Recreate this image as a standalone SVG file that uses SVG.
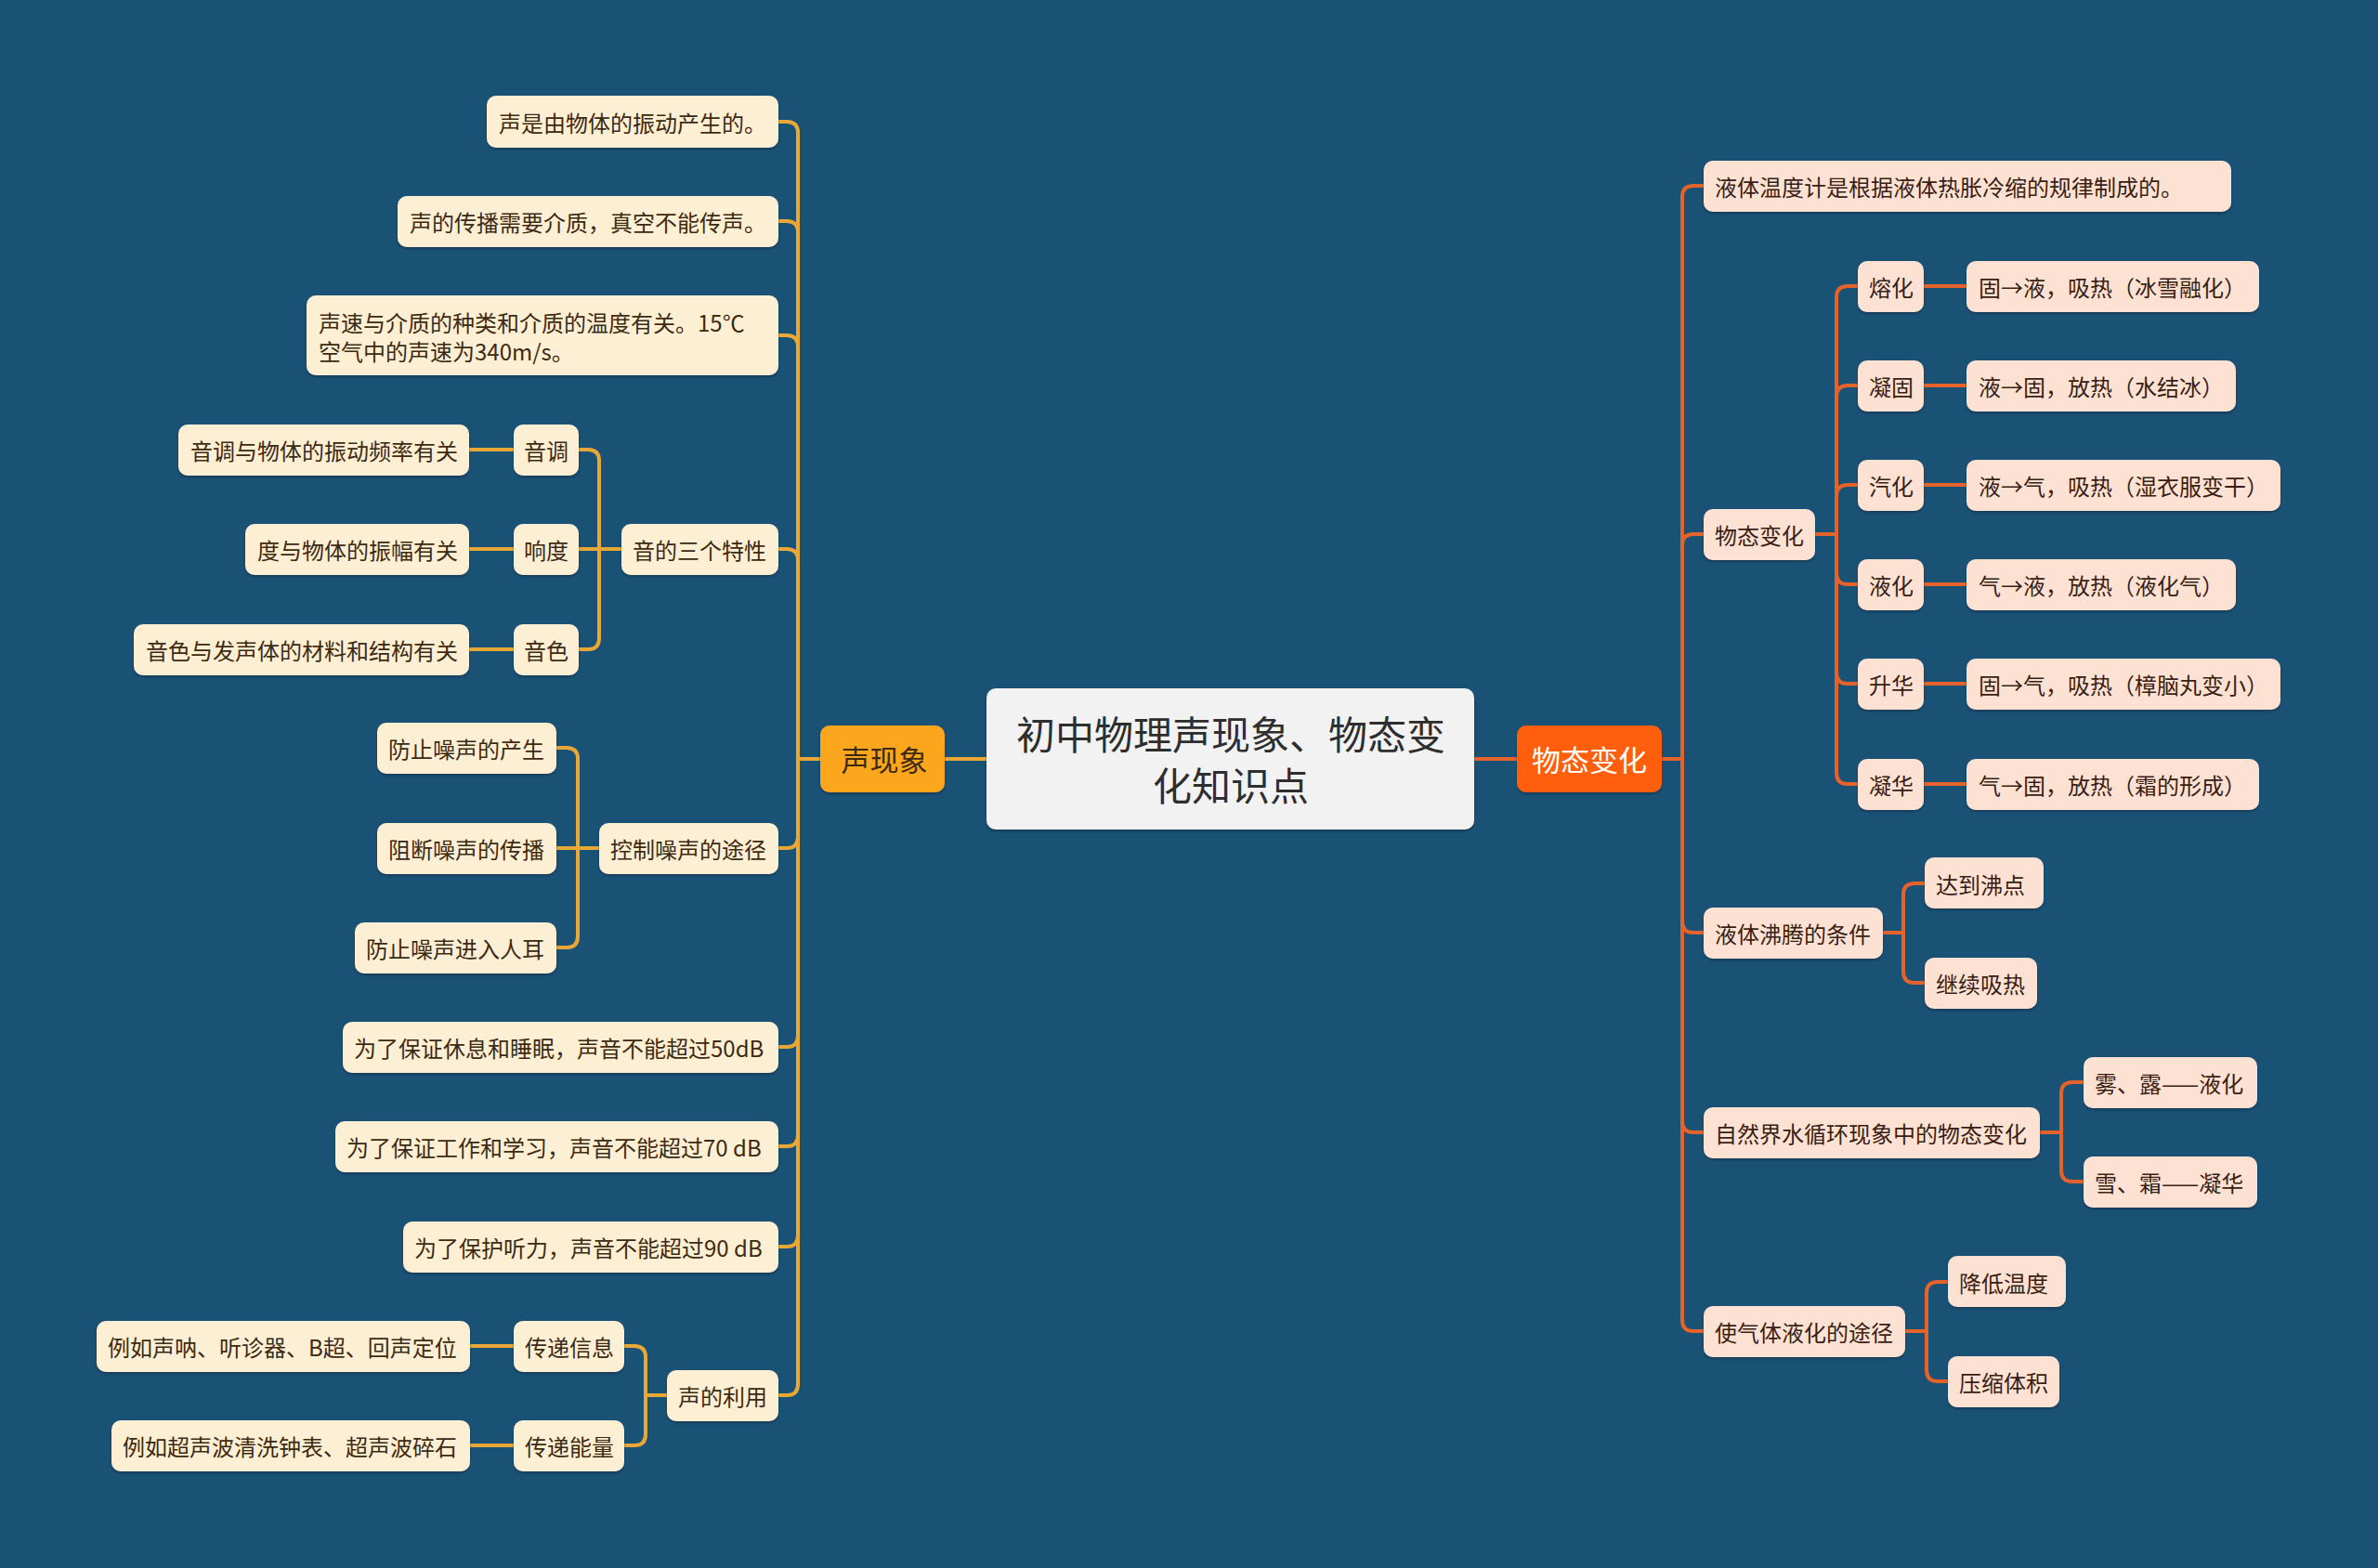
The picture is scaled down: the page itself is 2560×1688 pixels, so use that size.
<svg xmlns="http://www.w3.org/2000/svg" width="2560" height="1688" viewBox="0 0 2560 1688">
<defs>
<filter id="sh" x="-10%" y="-20%" width="120%" height="150%">
<feDropShadow dx="0" dy="2" stdDeviation="1.2" flood-color="#0b2a40" flood-opacity="0.55"/>
</filter>
<style>
text{font-family:"Noto Sans CJK SC","Noto Sans",sans-serif;dominant-baseline:central}
.l rect{fill:#FDEFD4;filter:url(#sh)}
.l text{fill:#3D2A10;font-size:24px}
.r rect{fill:#FDE2D4;filter:url(#sh)}
.r text{fill:#3A1E12;font-size:24px}
.cl{fill:none;stroke:#E9A735;stroke-width:4;stroke-linecap:round}
.cr{fill:none;stroke:#E5622A;stroke-width:4;stroke-linecap:round}
</style>
</defs>
<rect width="2560" height="1688" fill="#1A5276"/>

<g id="connectors">
<path class="cl" d="M1062 817 H1017"/>
<path class="cr" d="M1587 817 H1633"/>
<path class="cl" d="M883 817 H859"/>
<path class="cl" d="M838 131 H847 Q859 131 859 143 V817"/>
<path class="cl" d="M838 238 H847 Q859 238 859 250 V817"/>
<path class="cl" d="M838 361 H847 Q859 361 859 373 V817"/>
<path class="cl" d="M838 591 H847 Q859 591 859 603 V817"/>
<path class="cl" d="M838 913 H847 Q859 913 859 901 V817"/>
<path class="cl" d="M838 1127 H847 Q859 1127 859 1115 V817"/>
<path class="cl" d="M838 1234 H847 Q859 1234 859 1222 V817"/>
<path class="cl" d="M838 1342 H847 Q859 1342 859 1330 V817"/>
<path class="cl" d="M838 1502 H847 Q859 1502 859 1490 V817"/>
<path class="cl" d="M669 591 H645"/>
<path class="cl" d="M623 484 H633 Q645 484 645 496 V591"/>
<path class="cl" d="M623 591 H645"/>
<path class="cl" d="M623 699 H633 Q645 699 645 687 V591"/>
<path class="cl" d="M505 484 H553"/>
<path class="cl" d="M505 591 H553"/>
<path class="cl" d="M505 699 H553"/>
<path class="cl" d="M645 913 H622"/>
<path class="cl" d="M599 805 H610 Q622 805 622 817 V913"/>
<path class="cl" d="M599 913 H622"/>
<path class="cl" d="M599 1020 H610 Q622 1020 622 1008 V913"/>
<path class="cl" d="M718 1502 H695"/>
<path class="cl" d="M672 1449 H683 Q695 1449 695 1461 V1502"/>
<path class="cl" d="M672 1556 H683 Q695 1556 695 1544 V1502"/>
<path class="cl" d="M506 1449 H553"/>
<path class="cl" d="M506 1556 H553"/>
<path class="cr" d="M1789 817 H1811"/>
<path class="cr" d="M1834 200 H1823 Q1811 200 1811 212 V817"/>
<path class="cr" d="M1834 575 H1823 Q1811 575 1811 587 V817"/>
<path class="cr" d="M1834 1004 H1823 Q1811 1004 1811 992 V817"/>
<path class="cr" d="M1834 1219 H1823 Q1811 1219 1811 1207 V817"/>
<path class="cr" d="M1834 1433 H1823 Q1811 1433 1811 1421 V817"/>
<path class="cr" d="M1954 575 H1977"/>
<path class="cr" d="M2000 308 H1989 Q1977 308 1977 320 V575"/>
<path class="cr" d="M2000 415 H1989 Q1977 415 1977 427 V575"/>
<path class="cr" d="M2000 522 H1989 Q1977 522 1977 534 V575"/>
<path class="cr" d="M2000 629 H1989 Q1977 629 1977 617 V575"/>
<path class="cr" d="M2000 736 H1989 Q1977 736 1977 724 V575"/>
<path class="cr" d="M2000 844 H1989 Q1977 844 1977 832 V575"/>
<path class="cr" d="M2071 308 H2117"/>
<path class="cr" d="M2071 415 H2117"/>
<path class="cr" d="M2071 522 H2117"/>
<path class="cr" d="M2071 629 H2117"/>
<path class="cr" d="M2071 736 H2117"/>
<path class="cr" d="M2071 844 H2117"/>
<path class="cr" d="M2027 1004 H2049"/>
<path class="cr" d="M2072 951 H2061 Q2049 951 2049 963 V1004"/>
<path class="cr" d="M2072 1058 H2061 Q2049 1058 2049 1046 V1004"/>
<path class="cr" d="M2196 1219 H2219"/>
<path class="cr" d="M2243 1165 H2231 Q2219 1165 2219 1177 V1219"/>
<path class="cr" d="M2243 1272 H2231 Q2219 1272 2219 1260 V1219"/>
<path class="cr" d="M2051 1433 H2074"/>
<path class="cr" d="M2097 1380 H2086 Q2074 1380 2074 1392 V1433"/>
<path class="cr" d="M2097 1487 H2086 Q2074 1487 2074 1475 V1433"/>
</g>

<g id="center">
<rect x="1062" y="741" width="525" height="152" rx="10" fill="#F2F2F2" filter="url(#sh)"/>
<text x="1325" y="788" font-size="42" fill="#2E2E2E" text-anchor="middle">初中物理声现象、物态变</text>
<text x="1325" y="843" font-size="42" fill="#2E2E2E" text-anchor="middle">化知识点</text>
</g>
<g id="root-sound">
<rect x="883" y="781" width="134" height="72" rx="10" fill="#FBA61D" filter="url(#sh)"/>
<text x="952" y="816" font-size="31" fill="#3D2A10" text-anchor="middle">声现象</text>
</g>
<g id="root-state">
<rect x="1633" y="781" width="156" height="72" rx="10" fill="#FF5E0C" filter="url(#sh)"/>
<text x="1711" y="816" font-size="31" fill="#FFFFFF" text-anchor="middle">物态变化</text>
</g>

<g id="n-l1" class="l"><rect x="524" y="103" width="314" height="56" rx="10"/><text x="537" y="131">声是由物体的振动产生的。</text></g>
<g id="n-l2" class="l"><rect x="428" y="211" width="410" height="55" rx="10"/><text x="441" y="238">声的传播需要介质，真空不能传声。</text></g>
<g id="n-l3" class="l"><rect x="330" y="318" width="508" height="86" rx="10"/><text x="343" y="346">声速与介质的种类和介质的温度有关。15℃</text><text x="343" y="377">空气中的声速为340m/s。</text></g>
<g id="n-l4" class="l"><rect x="669" y="564" width="169" height="55" rx="10"/><text x="681" y="591">音的三个特性</text></g>
<g id="n-l4a" class="l"><rect x="553" y="457" width="70" height="55" rx="10"/><text x="564" y="484">音调</text></g>
<g id="n-l4b" class="l"><rect x="553" y="564" width="70" height="55" rx="10"/><text x="564" y="591">响度</text></g>
<g id="n-l4c" class="l"><rect x="553" y="672" width="70" height="55" rx="10"/><text x="564" y="699">音色</text></g>
<g id="n-l4a1" class="l"><rect x="192" y="457" width="313" height="55" rx="10"/><text x="205" y="484">音调与物体的振动频率有关</text></g>
<g id="n-l4b1" class="l"><rect x="264" y="564" width="241" height="55" rx="10"/><text x="277" y="591">度与物体的振幅有关</text></g>
<g id="n-l4c1" class="l"><rect x="144" y="672" width="361" height="55" rx="10"/><text x="157" y="699">音色与发声体的材料和结构有关</text></g>
<g id="n-l5" class="l"><rect x="645" y="886" width="193" height="55" rx="10"/><text x="657" y="913">控制噪声的途径</text></g>
<g id="n-l5a" class="l"><rect x="406" y="778" width="193" height="55" rx="10"/><text x="418" y="805">防止噪声的产生</text></g>
<g id="n-l5b" class="l"><rect x="406" y="886" width="193" height="55" rx="10"/><text x="418" y="913">阻断噪声的传播</text></g>
<g id="n-l5c" class="l"><rect x="382" y="993" width="217" height="55" rx="10"/><text x="394" y="1020">防止噪声进入人耳</text></g>
<g id="n-l6" class="l"><rect x="369" y="1100" width="469" height="55" rx="10"/><text x="381" y="1127">为了保证休息和睡眠，声音不能超过50dB</text></g>
<g id="n-l7" class="l"><rect x="361" y="1207" width="477" height="55" rx="10"/><text x="373" y="1234">为了保证工作和学习，声音不能超过70 dB</text></g>
<g id="n-l8" class="l"><rect x="434" y="1315" width="404" height="55" rx="10"/><text x="446" y="1342">为了保护听力，声音不能超过90 dB</text></g>
<g id="n-l9" class="l"><rect x="718" y="1475" width="120" height="55" rx="10"/><text x="730" y="1502">声的利用</text></g>
<g id="n-l9a" class="l"><rect x="553" y="1422" width="119" height="55" rx="10"/><text x="565" y="1449">传递信息</text></g>
<g id="n-l9b" class="l"><rect x="553" y="1529" width="119" height="55" rx="10"/><text x="565" y="1556">传递能量</text></g>
<g id="n-l9a1" class="l"><rect x="104" y="1422" width="402" height="55" rx="10"/><text x="116" y="1449">例如声呐、听诊器、B超、回声定位</text></g>
<g id="n-l9b1" class="l"><rect x="120" y="1529" width="386" height="55" rx="10"/><text x="132" y="1556">例如超声波清洗钟表、超声波碎石</text></g>

<g id="n-r1" class="r"><rect x="1834" y="173" width="568" height="55" rx="10"/><text x="1846" y="200">液体温度计是根据液体热胀冷缩的规律制成的。</text></g>
<g id="n-r2" class="r"><rect x="1834" y="548" width="120" height="55" rx="10"/><text x="1846" y="575">物态变化</text></g>
<g id="n-r2a" class="r"><rect x="2000" y="281" width="71" height="55" rx="10"/><text x="2012" y="308">熔化</text></g>
<g id="n-r2b" class="r"><rect x="2000" y="388" width="71" height="55" rx="10"/><text x="2012" y="415">凝固</text></g>
<g id="n-r2c" class="r"><rect x="2000" y="495" width="71" height="55" rx="10"/><text x="2012" y="522">汽化</text></g>
<g id="n-r2d" class="r"><rect x="2000" y="602" width="71" height="55" rx="10"/><text x="2012" y="629">液化</text></g>
<g id="n-r2e" class="r"><rect x="2000" y="709" width="71" height="55" rx="10"/><text x="2012" y="736">升华</text></g>
<g id="n-r2f" class="r"><rect x="2000" y="817" width="71" height="55" rx="10"/><text x="2012" y="844">凝华</text></g>
<g id="n-r2a1" class="r"><rect x="2117" y="281" width="315" height="55" rx="10"/><text x="2130" y="308">固→液，吸热（冰雪融化）</text></g>
<g id="n-r2b1" class="r"><rect x="2117" y="388" width="290" height="55" rx="10"/><text x="2130" y="415">液→固，放热（水结冰）</text></g>
<g id="n-r2c1" class="r"><rect x="2117" y="495" width="338" height="55" rx="10"/><text x="2130" y="522">液→气，吸热（湿衣服变干）</text></g>
<g id="n-r2d1" class="r"><rect x="2117" y="602" width="290" height="55" rx="10"/><text x="2130" y="629">气→液，放热（液化气）</text></g>
<g id="n-r2e1" class="r"><rect x="2117" y="709" width="338" height="55" rx="10"/><text x="2130" y="736">固→气，吸热（樟脑丸变小）</text></g>
<g id="n-r2f1" class="r"><rect x="2117" y="817" width="315" height="55" rx="10"/><text x="2130" y="844">气→固，放热（霜的形成）</text></g>
<g id="n-r3" class="r"><rect x="1834" y="977" width="193" height="55" rx="10"/><text x="1846" y="1004">液体沸腾的条件</text></g>
<g id="n-r3a" class="r"><rect x="2072" y="923" width="128" height="55" rx="10"/><text x="2084" y="951">达到沸点</text></g>
<g id="n-r3b" class="r"><rect x="2072" y="1031" width="121" height="55" rx="10"/><text x="2084" y="1058">继续吸热</text></g>
<g id="n-r4" class="r"><rect x="1834" y="1192" width="362" height="55" rx="10"/><text x="1846" y="1219">自然界水循环现象中的物态变化</text></g>
<g id="n-r4a" class="r"><rect x="2243" y="1138" width="187" height="55" rx="10"/><text x="2255" y="1165">雾、露——液化</text></g>
<g id="n-r4b" class="r"><rect x="2243" y="1245" width="187" height="55" rx="10"/><text x="2255" y="1272">雪、霜——凝华</text></g>
<g id="n-r5" class="r"><rect x="1834" y="1406" width="217" height="55" rx="10"/><text x="1846" y="1433">使气体液化的途径</text></g>
<g id="n-r5a" class="r"><rect x="2097" y="1352" width="127" height="55" rx="10"/><text x="2109" y="1380">降低温度</text></g>
<g id="n-r5b" class="r"><rect x="2097" y="1460" width="120" height="55" rx="10"/><text x="2109" y="1487">压缩体积</text></g>
</svg>
